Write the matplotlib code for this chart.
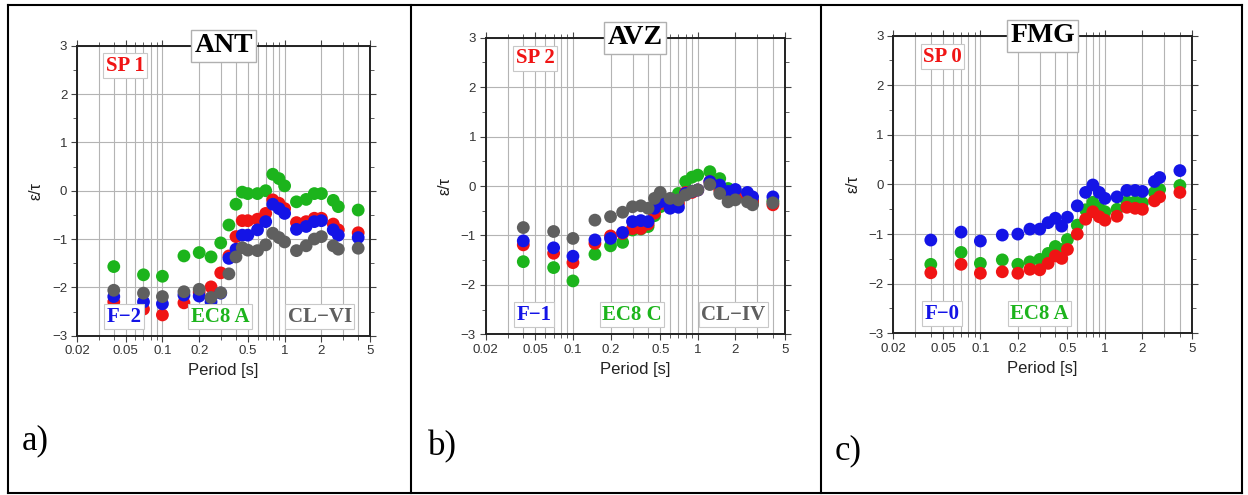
import matplotlib
matplotlib.use("Agg")
import matplotlib.pyplot as plt
from matplotlib.ticker import FixedLocator, NullFormatter, FixedFormatter
from matplotlib.lines import Line2D

# --- data ---
periods = [0.04, 0.07, 0.1, 0.15, 0.2, 0.25, 0.3, 0.35, 0.4, 0.45, 0.5, 0.6,
           0.7, 0.8, 0.9, 1.0, 1.25, 1.5, 1.75, 2.0, 2.5, 2.75, 4.0]

# a) ANT
ant_sp = [-2.30, -2.45, -2.57, -2.32, -2.10, -1.99, -1.70, -1.35, -0.95, -0.62, -0.62, -0.59,
          -0.47, -0.19, -0.26, -0.37, -0.66, -0.64, -0.57, -0.57, -0.69, -0.81, -0.87]
ant_f = [-2.19, -2.30, -2.34, -2.16, -2.18, -2.30, -2.12, -1.40, -1.21, -0.92, -0.92, -0.81,
         -0.64, -0.28, -0.37, -0.47, -0.80, -0.74, -0.64, -0.62, -0.81, -0.92, -0.97]
ant_ec8 = [-1.57, -1.74, -1.77, -1.35, -1.28, -1.37, -1.08, -0.71, -0.28, -0.03, -0.06, -0.06,
           0.00, 0.34, 0.25, 0.10, -0.23, -0.18, -0.06, -0.06, -0.20, -0.33, -0.40]
ant_cl = [-2.06, -2.12, -2.19, -2.09, -2.04, -2.21, -2.11, -1.72, -1.37, -1.18, -1.23, -1.24,
          -1.12, -0.88, -0.97, -1.06, -1.24, -1.14, -1.00, -0.95, -1.14, -1.21, -1.19]

# b) AVZ
avz_sp = [-1.19, -1.36, -1.55, -1.16, -1.01, -0.96, -0.86, -0.86, -0.77, -0.55, -0.36, -0.43,
          -0.35, -0.13, -0.13, -0.08, 0.09, -0.08, -0.22, -0.15, -0.22, -0.32, -0.38]
avz_f = [-1.11, -1.25, -1.42, -1.09, -1.06, -0.94, -0.72, -0.70, -0.72, -0.45, -0.32, -0.45,
         -0.43, -0.15, -0.11, -0.08, 0.09, 0.02, -0.11, -0.07, -0.13, -0.22, -0.22]
avz_ec8 = [-1.53, -1.65, -1.92, -1.38, -1.21, -1.14, -0.89, -0.87, -0.82, -0.60, -0.42, -0.38,
           -0.15, 0.09, 0.18, 0.22, 0.29, 0.15, -0.05, -0.10, -0.25, -0.30, -0.30]
avz_cl = [-0.84, -0.92, -1.06, -0.69, -0.62, -0.53, -0.42, -0.40, -0.45, -0.25, -0.13, -0.25,
          -0.28, -0.18, -0.11, -0.08, 0.03, -0.15, -0.32, -0.28, -0.32, -0.38, -0.34]

# c) FMG
fmg_sp = [-1.78, -1.61, -1.79, -1.76, -1.79, -1.71, -1.72, -1.59, -1.44, -1.49, -1.31, -1.00,
          -0.70, -0.55, -0.65, -0.72, -0.64, -0.46, -0.48, -0.50, -0.33, -0.25, -0.16]
fmg_f = [-1.12, -0.96, -1.14, -1.02, -1.00, -0.90, -0.90, -0.77, -0.68, -0.84, -0.66, -0.43,
         -0.16, -0.01, -0.16, -0.28, -0.25, -0.12, -0.12, -0.14, 0.06, 0.14, 0.28]
fmg_ec8 = [-1.61, -1.37, -1.59, -1.52, -1.61, -1.56, -1.51, -1.39, -1.25, -1.31, -1.11, -0.82,
           -0.51, -0.36, -0.48, -0.55, -0.50, -0.35, -0.35, -0.37, -0.16, -0.10, -0.02]

x_labels = ["0.02", "0.05", "0.1", "0.2", "0.5", "1", "2", "5"]
x_label_pos = [0.02, 0.05, 0.1, 0.2, 0.5, 1, 2, 5]
x_grid = [0.03, 0.04, 0.05, 0.06, 0.07, 0.08, 0.09, 0.1, 0.2, 0.3, 0.4, 0.5,
          0.6, 0.7, 0.8, 0.9, 1, 2, 3, 4]

RED, BLUE, GREEN, GRAY = "#f01414", "#1414e6", "#1cb41c", "#5f5f5f"

panels = [
    dict(rect=[0.0617, 0.3218, 0.2348, 0.5859], name="ANT", sp="SP 1", f="F\u22122",
         ec8="EC8 A", cl="CL\u2212VI",
         series=[(ant_ec8, GREEN), (ant_sp, RED), (ant_f, BLUE), (ant_cl, GRAY)],
         letter="a)", letter_xy=(22, 441)),
    dict(rect=[0.3892, 0.3246, 0.2398, 0.5992], name="AVZ", sp="SP 2", f="F\u22121",
         ec8="EC8 C", cl="CL\u2212IV",
         series=[(avz_ec8, GREEN), (avz_sp, RED), (avz_f, BLUE), (avz_cl, GRAY)],
         letter="b)", letter_xy=(428, 447)),
    dict(rect=[0.7158, 0.3267, 0.2393, 0.6012], name="FMG", sp="SP 0", f="F\u22120",
         ec8="EC8 A", cl=None,
         series=[(fmg_ec8, GREEN), (fmg_sp, RED), (fmg_f, BLUE)],
         letter="c)", letter_xy=(835, 451)),
]

W, H = 1248, 495
fig = plt.figure(figsize=(W / 100, H / 100), dpi=100)

serif = ["Liberation Serif", "DejaVu Serif"]
sans = ["Liberation Sans", "DejaVu Sans"]
box = dict(boxstyle="square,pad=0.12", fc="white", ec="#c8c8c8", lw=0.8)

for p in panels:
    ax = fig.add_axes(p["rect"])
    ax.set_xscale("log")
    ax.set_xlim(0.02, 5)
    ax.set_ylim(-3, 3)

    for vals, col in p["series"]:
        ax.scatter(periods, vals, s=85, color=col, edgecolors="none", zorder=3, clip_on=False)

    ax.xaxis.set_major_locator(FixedLocator(x_label_pos))
    ax.xaxis.set_major_formatter(FixedFormatter(x_labels))
    ax.xaxis.set_minor_locator(FixedLocator(x_grid))
    ax.xaxis.set_minor_formatter(NullFormatter())
    ax.set_yticks([-3, -2, -1, 0, 1, 2, 3])
    ax.set_yticks([-2.5, -1.5, -0.5, 0.5, 1.5, 2.5], minor=True)
    ax.set_yticklabels(["\u22123", "\u22122", "\u22121", "0", "1", "2", "3"])

    ax.grid(True, which="both", axis="x", color="#b4b4b4", lw=0.8, zorder=0)
    ax.grid(True, which="major", axis="y", color="#b4b4b4", lw=0.8, zorder=0)
    ax.set_axisbelow(True)

    ax.tick_params(which="both", direction="out", top=True, right=True,
                   colors="#444444", labelsize=9.5, labelcolor="#333333")
    ax.tick_params(which="major", length=4, width=0.8, pad=3)
    ax.tick_params(which="minor", length=3, width=0.6)
    for lab in ax.get_xticklabels() + ax.get_yticklabels():
        lab.set_family(sans)
    for s in ax.spines.values():
        s.set_linewidth(1.4)
        s.set_color("#222222")

    ax.set_xlabel("Period [s]", fontsize=12, family=sans, color="#222222", labelpad=4)
    ax.set_ylabel("\u03b5/\u03c4", fontsize=11.5, family=sans, color="#222222", labelpad=6)

    ax.text(0.5, 1.0, p["name"], transform=ax.transAxes, ha="center", va="center",
            fontsize=20, fontweight="bold", family=serif, color="black",
            bbox=dict(boxstyle="square,pad=0.12", fc="white", ec="#b0b0b0", lw=1), zorder=5)
    ax.text(0.165, 0.93, p["sp"], transform=ax.transAxes, ha="center", va="center",
            fontsize=15, fontweight="bold", family=serif, color=RED, bbox=box, zorder=5)
    ax.text(0.162, 0.066, p["f"], transform=ax.transAxes, ha="center", va="center",
            fontsize=15, fontweight="bold", family=serif, color=BLUE, bbox=box, zorder=5)
    ax.text(0.489, 0.066, p["ec8"], transform=ax.transAxes, ha="center", va="center",
            fontsize=15, fontweight="bold", family=serif, color=GREEN, bbox=box, zorder=5)
    if p["cl"]:
        ax.text(0.828, 0.066, p["cl"], transform=ax.transAxes, ha="center", va="center",
                fontsize=15, fontweight="bold", family=serif, color=GRAY, bbox=box, zorder=5)

    lx, ly = p["letter_xy"]
    fig.text(lx / W, 1 - ly / H, p["letter"], ha="left", va="center",
             fontsize=25, family=serif, color="black")

# table borders around the three cells
def fline(x0, y0, x1, y1):
    fig.add_artist(Line2D([x0 / W, x1 / W], [1 - y0 / H, 1 - y1 / H],
                          transform=fig.transFigure, color="black", lw=1.5))

fline(8, 5, 1242, 5)
fline(8, 493, 1242, 493)
for xx in [8, 411, 821, 1242]:
    fline(xx, 5, xx, 493)

fig.savefig("out.png", dpi=100)
